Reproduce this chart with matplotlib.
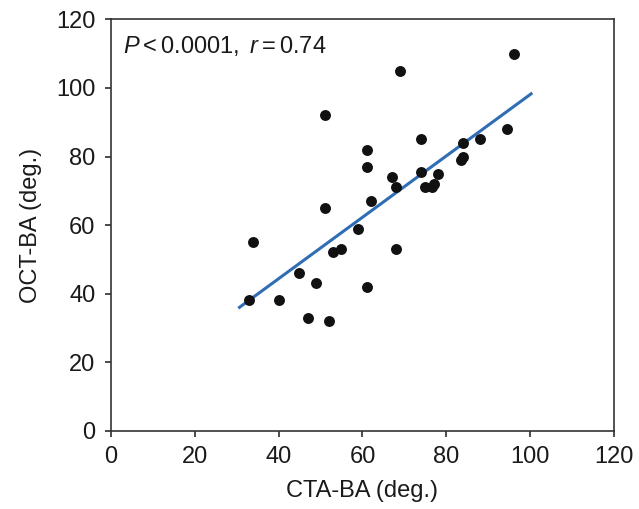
import numpy as np
import matplotlib.pyplot as plt

plt.rcParams['font.family'] = ['Liberation Sans', 'DejaVu Sans']
plt.rcParams['mathtext.fontset'] = 'custom'
plt.rcParams['mathtext.rm'] = 'Liberation Sans'
plt.rcParams['mathtext.it'] = 'Liberation Sans:italic'

# CTA-BA vs OCT-BA (deg.)
cta_ba = [33, 34, 40, 45, 49, 47, 52, 51, 51, 53, 55, 59, 61, 61, 61, 62,
          67, 68, 68, 69, 74, 74, 75, 76.5, 77, 78, 83.5, 84, 84, 88, 94.5, 96]
oct_ba = [38, 55, 38, 46, 43, 33, 32, 92, 65, 52, 53, 59, 82, 77, 42, 67,
          74, 71, 53, 105, 85, 75.5, 71, 71, 72, 75, 79, 80, 84, 85, 88, 110]

# regression line end points
fit_x = [30.7, 100.2]
fit_y = [36.0, 98.3]

ticks = [0, 20, 40, 60, 80, 100, 120]

fig = plt.figure(figsize=(6.39, 5.09), dpi=100)
ax = fig.add_axes([0.1732, 0.1538, 0.788, 0.808])

ax.plot(fit_x, fit_y, color='#2f6db5', lw=2.2, zorder=2)
ax.scatter(cta_ba, oct_ba, s=62, color='#111111', zorder=3, linewidths=0)

ax.set_xlim(0, 120)
ax.set_ylim(0, 120)
ax.set_xticks(ticks)
ax.set_yticks(ticks)
ax.tick_params(labelsize=17, length=4, width=1.1, pad=7, colors='#1a1a1a', direction='out')
for s in ax.spines.values():
    s.set_linewidth(1.2)
    s.set_color('#333333')

ax.set_xlabel('CTA-BA (deg.)', fontsize=17, color='#1a1a1a', labelpad=9)
ax.set_ylabel('OCT-BA (deg.)', fontsize=17, color='#1a1a1a', labelpad=10)

ax.text(0.025, 0.965, r'$P<0.0001,\ r=0.74$', transform=ax.transAxes,
        fontsize=17, va='top', ha='left', color='#1a1a1a')

fig.savefig('out.png', dpi=100)
